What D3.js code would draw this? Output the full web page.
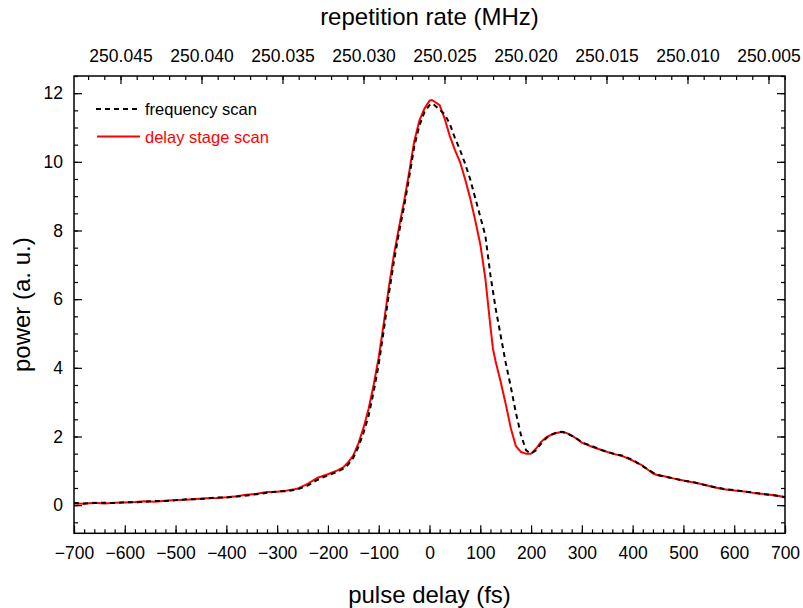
<!DOCTYPE html>
<html><head><meta charset="utf-8">
<script src="https://cdn.jsdelivr.net/npm/d3@7"></script>
<style>body{margin:0;background:#fff}svg{display:block}text{font-family:"Liberation Sans",Arial,sans-serif}</style>
</head><body>
<svg id="c" width="803" height="608"></svg>
<script>
// ---- data ----
const delayStageX = [-700,-680,-660,-640,-620,-600,-580,-560,-540,-520,-500,-480,-460,-440,-420,-400,-380,-360,-340,-320,-300,-280,-260,-240,-220,-200,-180,-170,-160,-150,-140,-130,-120,-110,-100,-90,-80,-70,-60,-50,-40,-30,-20,-10,0,5,10,20,30,40,50,60,70,80,90,100,110,120,125,130,140,150,160,170,180,190,200,210,220,230,240,250,260,270,280,290,300,320,340,360,380,400,420,440,450,460,480,500,520,540,560,580,600,620,640,660,680,700];
const delayStageY = [0.05,0.04,0.07,0.05,0.07,0.08,0.09,0.11,0.10,0.13,0.15,0.16,0.18,0.20,0.21,0.23,0.26,0.30,0.33,0.38,0.39,0.43,0.48,0.62,0.80,0.90,1.02,1.10,1.25,1.45,1.80,2.25,2.80,3.50,4.30,5.30,6.35,7.30,8.10,8.85,9.70,10.60,11.20,11.55,11.78,11.80,11.75,11.65,11.25,10.75,10.35,10.00,9.50,8.95,8.30,7.60,6.60,5.20,4.55,4.20,3.60,2.95,2.25,1.72,1.55,1.50,1.50,1.65,1.85,1.98,2.05,2.10,2.13,2.10,2.03,1.93,1.82,1.70,1.60,1.50,1.43,1.30,1.15,0.92,0.87,0.85,0.78,0.72,0.66,0.60,0.52,0.46,0.43,0.40,0.35,0.32,0.29,0.24];
const freqScanX = [-700,-680,-660,-640,-620,-600,-580,-560,-540,-520,-500,-480,-460,-440,-420,-400,-380,-360,-340,-320,-300,-280,-260,-240,-220,-200,-180,-170,-160,-150,-140,-130,-120,-110,-100,-90,-80,-70,-60,-50,-40,-30,-20,-10,0,5,10,20,30,40,50,60,70,80,90,100,110,120,130,140,150,160,170,180,190,200,210,220,230,240,250,260,270,280,290,300,320,340,360,380,400,420,440,450,460,480,500,520,540,560,580,600,620,640,660,680,700];
const freqScanY = [0.06,0.05,0.06,0.07,0.06,0.09,0.08,0.10,0.12,0.12,0.14,0.17,0.17,0.19,0.22,0.22,0.25,0.28,0.32,0.36,0.40,0.41,0.46,0.57,0.74,0.87,0.98,1.06,1.18,1.38,1.70,2.10,2.60,3.30,4.10,5.10,6.15,7.10,7.95,8.70,9.55,10.45,11.05,11.45,11.65,11.70,11.65,11.52,11.38,11.10,10.70,10.35,9.95,9.50,8.95,8.40,7.85,6.70,5.75,4.95,4.15,3.45,2.70,2.05,1.60,1.50,1.60,1.80,1.95,2.05,2.12,2.14,2.10,2.02,1.94,1.83,1.72,1.60,1.51,1.44,1.32,1.13,0.95,0.88,0.84,0.78,0.71,0.67,0.59,0.53,0.47,0.44,0.40,0.36,0.32,0.28,0.23];
const xDomain = [-700, 700];
const yDomain = [-0.82, 12.5];
const topDomain = [250.04787, 250.00398];
const xTicks = d3.range(-700, 701, 100);
const xMinor = d3.range(-700, 701, 20);
const yTicks = d3.range(0, 13, 2);
const yMinor = d3.range(-0.5, 12.51, 0.5);
const topTicks = [250.045,250.040,250.035,250.030,250.025,250.020,250.015,250.010,250.005];
const topMinor = d3.range(250004, 250048, 1).map(v => v / 1000);
const legendLabels = ["frequency scan", "delay stage scan"];

// ---- layout ----
const L = 74, R = 785, T = 76, B = 533.3;
const svg = d3.select("#c");
const x = d3.scaleLinear(xDomain, [L, R]);
const y = d3.scaleLinear(yDomain, [B, T]);
const xt = d3.scaleLinear(topDomain, [L, R]);

function styleAxis(g){
  g.select(".domain").remove();
  g.selectAll("line").attr("stroke","#000").attr("stroke-width",1.2);
  g.selectAll("text").attr("fill","#000").style("font-size","17.5px").style("font-family","'Liberation Sans',Arial,sans-serif");
}
// bottom
svg.append("g").attr("transform",`translate(0,${B})`)
  .call(d3.axisBottom(x).tickValues(xMinor).tickSize(-4).tickFormat("")).call(styleAxis);
svg.append("g").attr("transform",`translate(0,${B})`)
  .call(d3.axisBottom(x).tickValues(xTicks).tickSize(-8).tickPadding(13).tickFormat(d3.format("d"))).call(styleAxis);
// top
svg.append("g").attr("transform",`translate(0,${T})`)
  .call(d3.axisTop(xt).tickValues(topMinor).tickSize(-4).tickFormat("")).call(styleAxis);
svg.append("g").attr("transform",`translate(0,${T})`)
  .call(d3.axisTop(xt).tickValues(topTicks).tickSize(-8).tickPadding(14).tickFormat(d3.format(".3f"))).call(styleAxis);
// left
svg.append("g").attr("transform",`translate(${L},0)`)
  .call(d3.axisLeft(y).tickValues(yMinor).tickSize(-4).tickFormat("")).call(styleAxis);
svg.append("g").attr("transform",`translate(${L},0)`)
  .call(d3.axisLeft(y).tickValues(yTicks).tickSize(-8).tickPadding(11).tickFormat(d3.format("d"))).call(styleAxis);
// right
svg.append("g").attr("transform",`translate(${R},0)`)
  .call(d3.axisRight(y).tickValues(yMinor).tickSize(-4).tickFormat("")).call(styleAxis);
svg.append("g").attr("transform",`translate(${R},0)`)
  .call(d3.axisRight(y).tickValues(yTicks).tickSize(-8).tickFormat("")).call(styleAxis);

// curves
const line = d3.line().x(d => x(d[0])).y(d => y(d[1]));
svg.append("path").datum(delayStageX.map((d,i)=>[d,delayStageY[i]]))
  .attr("d",line).attr("fill","none").attr("stroke","#ff0000").attr("stroke-width",2).attr("stroke-linejoin","round");
svg.append("path").datum(freqScanX.map((d,i)=>[d,freqScanY[i]]))
  .attr("d",line).attr("fill","none").attr("stroke","#000").attr("stroke-width",2).attr("stroke-dasharray","5,4");

// frame
svg.append("rect").attr("x",L).attr("y",T).attr("width",R-L).attr("height",B-T)
  .attr("fill","none").attr("stroke","#000").attr("stroke-width",1.5);

// legend
const lg = svg.append("g");
lg.append("line").attr("x1",96).attr("x2",139).attr("y1",109).attr("y2",109)
  .attr("stroke","#000").attr("stroke-width",2).attr("stroke-dasharray","5,4");
lg.append("text").attr("x",145).attr("y",115).text(legendLabels[0]).style("font-size","16.5px").attr("fill","#000");
lg.append("line").attr("x1",97).attr("x2",140).attr("y1",136.5).attr("y2",136.5)
  .attr("stroke","#ff0000").attr("stroke-width",2);
lg.append("text").attr("x",145).attr("y",142.5).text(legendLabels[1]).style("font-size","16.5px").attr("fill","#ff0000");

// titles
svg.append("text").attr("x",(L+R)/2).attr("y",603).attr("text-anchor","middle").style("font-size","24px").text("pulse delay (fs)");
svg.append("text").attr("x",(L+R)/2).attr("y",25).attr("text-anchor","middle").style("font-size","24px").text("repetition rate (MHz)");
svg.append("text").attr("transform",`translate(30,${(T+B)/2}) rotate(-90)`).attr("text-anchor","middle").style("font-size","24px").text("power (a. u.)");
</script>
</body></html>
